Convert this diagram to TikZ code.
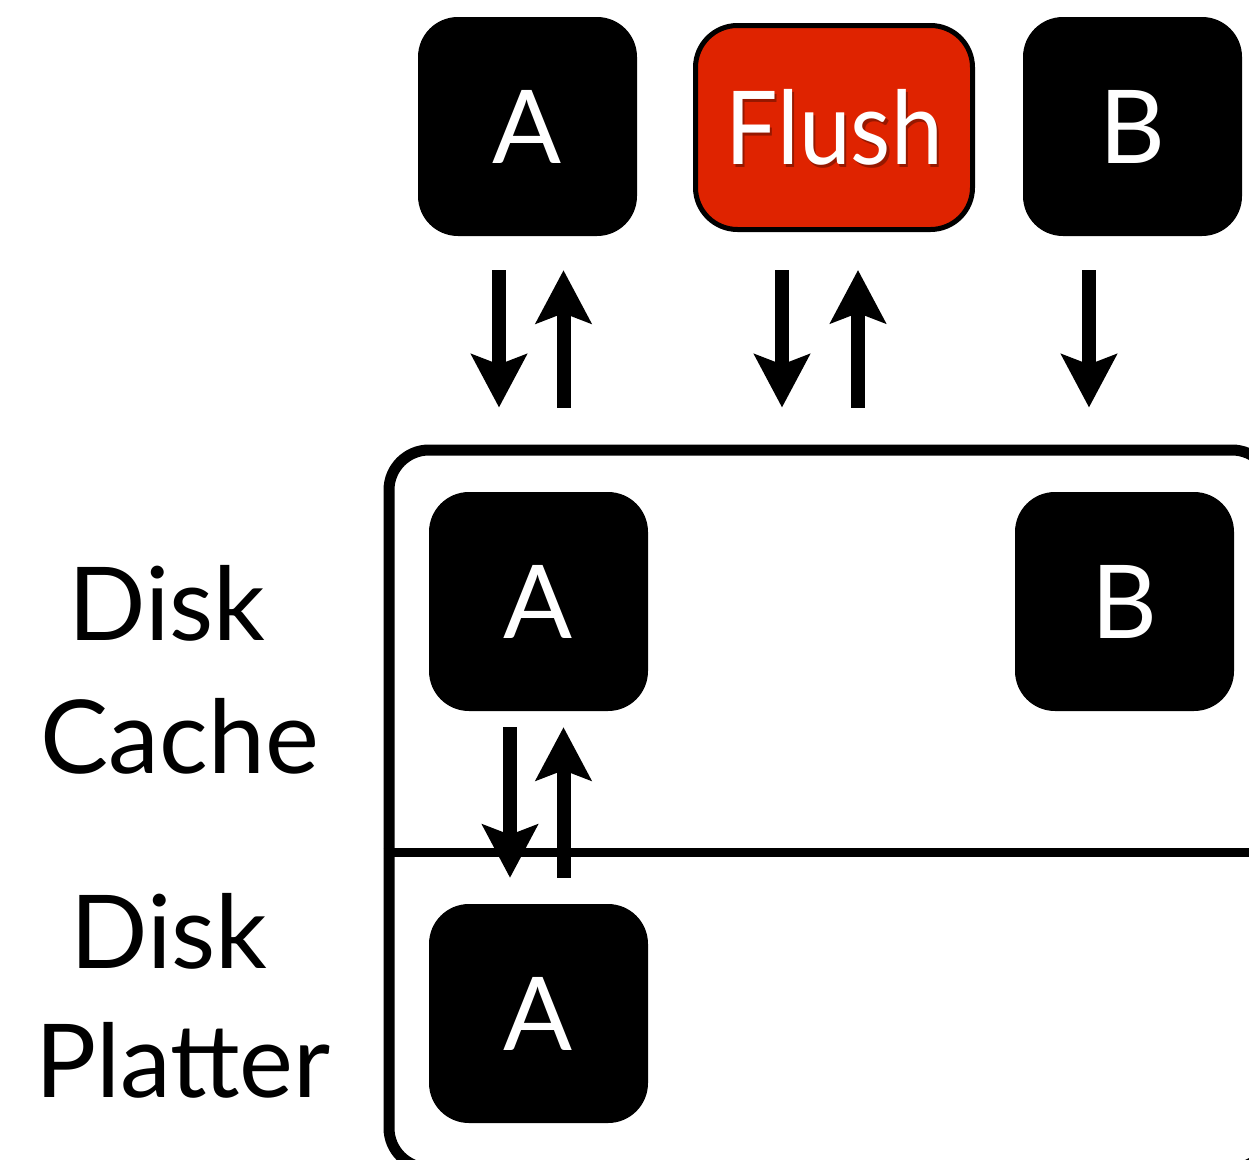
\documentclass[tikz,border=0pt]{standalone}
\usepackage{fontspec}
\setmainfont{Lato}
\usetikzlibrary{arrows.meta,calc}
\definecolor{flushred}{RGB}{223,35,0}
\definecolor{flushshade}{RGB}{150,24,0}
\newcommand{\bigfont}{\fontsize{102}{131}\selectfont}
\newcommand{\shadedword}[1]{\rlap{\hspace{2.5pt}\raisebox{-3pt}{\textcolor{flushshade}{#1}}}#1}
\tikzset{
  blk/.style={fill=black, rounded corners=40pt, minimum width=219pt,
    minimum height=219pt, inner sep=0pt, text=white, font=\bigfont,
    text height=73pt, text depth=0pt},
  lbl/.style={font=\bigfont, anchor=base, inner sep=0pt},
  arr/.style={line width=14pt, -{Stealth[length=53pt,width=55pt,inset=10pt]}},
}
\begin{document}
\begin{tikzpicture}[x=1pt,y=-1pt]
\useasboundingbox (0,0) rectangle (1249,1159);
\clip (0,0) rectangle (1249,1159);

% request queue
\node[blk] (tA) at (527.5,126.5) {A};
\node[fill=flushred, draw=black, line width=5pt, rounded corners=42pt,
      minimum width=277pt, minimum height=204pt, inner sep=0pt,
      text=white, font=\bigfont, text height=73pt, text depth=0pt]
      (fl) at (834,127.5) {\scalebox{0.91}[1]{\shadedword{Flush}}};
\node[blk] (tB) at (1132.5,126.5) {B};

% disk: cache above, platter below
\node[draw, line width=11pt, rounded corners=40pt, minimum width=883pt,
      minimum height=718pt, inner sep=0pt] (disk) at (830.5,809) {};
\draw[line width=9pt] (disk.west |- 0,852) -- (disk.east |- 0,852);

\node[blk] (cA) at (538.5,601.5) {A};
\node[blk] (cB) at (1124.5,601.5) {B};
\node[blk] (pA) at (538.5,1013.5) {A};

% labels
\node[lbl] (l1) at (167,640) {Disk};
\node[lbl] (l2) at (180,773) {Cache};
\node[lbl] (l3) at (169,968) {Disk};
\node[lbl] (l4) at (183,1097) {Platter};

% requests into the cache and acknowledgements back
\draw[arr, shorten <=34pt, shorten >=37pt]
  ([xshift=-28.5pt]tA.south) -- ([xshift=-28.5pt]tA.south |- disk.north);
\draw[arr, shorten <=37pt, shorten >=34pt]
  ([xshift=36pt]tA.south |- disk.north) -- ([xshift=36pt]tA.south);
\draw[arr, shorten <=38pt, shorten >=37pt]
  ([xshift=-52pt]fl.south) -- ([xshift=-52pt]fl.south |- disk.north);
\draw[arr, shorten <=37pt, shorten >=38pt]
  ([xshift=24pt]fl.south |- disk.north) -- ([xshift=24pt]fl.south);
\draw[arr, shorten <=34pt, shorten >=37pt]
  ([xshift=-43.5pt]tB.south) -- ([xshift=-43.5pt]tB.south |- disk.north);

% cache to platter and back
\draw[arr, shorten <=16pt, shorten >=26pt]
  ([xshift=-28.5pt]cA.south) -- ([xshift=-28.5pt]pA.north);
\draw[arr, shorten <=26pt, shorten >=16pt]
  ([xshift=25pt]pA.north) -- ([xshift=25pt]cA.south);
\end{tikzpicture}
\end{document}
